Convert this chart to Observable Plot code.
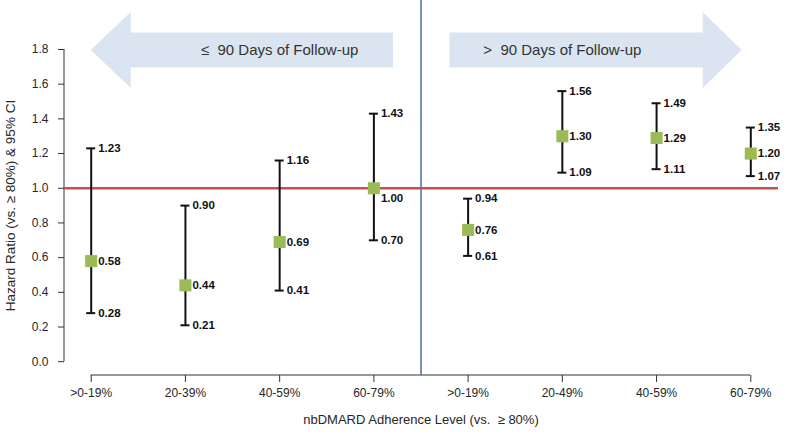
<!DOCTYPE html>
<html>
<head>
<meta charset="utf-8">
<script src="https://cdn.jsdelivr.net/npm/d3@7"></script>
<script src="https://cdn.jsdelivr.net/npm/@observablehq/plot@0.6"></script>
<style>
  html, body { margin: 0; padding: 0; background: #fff; }
  svg { display: block; }
</style>
</head>
<body>
<div id="chart"></div>
<script>
// ---- data ----
const categories = [">0-19%", "20-39%", "40-59%", "60-79%", ">0-19%", "20-49%", "40-59%", "60-79%"];
const hazardRatio = [0.58, 0.44, 0.69, 1.00, 0.76, 1.30, 1.29, 1.20];
const ciLower     = [0.28, 0.21, 0.41, 0.70, 0.61, 1.09, 1.11, 1.07];
const ciUpper     = [1.23, 0.90, 1.16, 1.43, 0.94, 1.56, 1.49, 1.35];
const yTicks = [0.0, 0.2, 0.4, 0.6, 0.8, 1.0, 1.2, 1.4, 1.6, 1.8];
const periodLabels = ["\u2264  90 Days of Follow-up", ">  90 Days of Follow-up"];
const periodCenters = [2, 5];
const referenceHR = 1.0;
const xTitle = "nbDMARD Adherence Level (vs.  \u2265 80%)";
const yTitle = "Hazard Ratio (vs. \u2265 80%) & 95% CI";

const rows = categories.map((c, i) => ({i, c, hr: hazardRatio[i], lo: ciLower[i], hi: ciUpper[i]}));
const lastIndex = categories.length - 1;
const divider = lastIndex / 2;
const yMax = yTicks[yTicks.length - 1];
const fmt = d3.format(".2f");
const font = "'Liberation Sans', Arial, Helvetica, sans-serif";

// decorative block arrows + axis lines, positioned through the scales
function decorations(index, {x, y}, values, dims) {
  const g = d3.create("svg:g");
  const cy = y(yMax) + 1;
  const bh = 17.5, hh = 38, head = 40;
  const xd = x(divider);
  const L0 = x(0), L1 = xd - 27.5;
  const R0 = xd + 29, R1 = x(lastIndex) - 8.6;
  const left = [[L0, cy], [L0 + head, cy - hh], [L0 + head, cy - bh], [L1, cy - bh], [L1, cy + bh], [L0 + head, cy + bh], [L0 + head, cy + hh]];
  const right = [[R1, cy], [R1 - head + 1, cy - hh], [R1 - head + 1, cy - bh], [R0, cy - bh], [R0, cy + bh], [R1 - head + 1, cy + bh], [R1 - head + 1, cy + hh]];
  for (const p of [left, right]) {
    g.append("path").attr("d", "M" + p.map(q => q.join(",")).join("L") + "Z").attr("fill", "#dbe5f1");
  }
  const axisY = dims.height - dims.marginBottom;
  g.append("path")
    .attr("d", `M${dims.marginLeft},${y(yMax)}V${y(0)}M${x(0)},${axisY}H${x(lastIndex)}`)
    .attr("stroke", "#333").attr("fill", "none");
  return g.node();
}

const chart = Plot.plot({
  width: 787,
  height: 437,
  marginLeft: 64,
  marginRight: 9,
  marginTop: 0,
  marginBottom: 62,
  style: {fontFamily: font, background: "#fff", color: "#262626"},
  x: {type: "linear", domain: [0, lastIndex], range: [90.7, 750.3]},
  y: {domain: [0, yMax], range: [361.2, 49]},
  marks: [
    decorations,
    Plot.ruleX([divider], {stroke: "#5676a3", strokeWidth: 1.6}),
    Plot.ruleY([referenceHR], {stroke: "#c4504f", strokeWidth: 2.6}),
    Plot.axisY(yTicks, {tickFormat: d3.format(".1f"), tickSize: 6, tickPadding: 10, fontSize: 12, label: null, stroke: "#333"}),
    Plot.axisX(d3.range(categories.length), {tickFormat: i => categories[i], tickSize: 7, tickPadding: 6, fontSize: 12, label: null, stroke: "#333"}),
    Plot.text(periodLabels, {x: (d, i) => periodCenters[i], y: () => yMax, dy: 1, fontSize: 15, fill: "#333", textAnchor: "middle"}),
    Plot.text([xTitle], {x: () => divider, frameAnchor: "bottom", dy: 48, fontSize: 13, fill: "#262626", textAnchor: "middle"}),
    Plot.text([yTitle], {y: () => yMax / 2, frameAnchor: "left", dx: -54, rotate: -90, fontSize: 13.5, fill: "#262626", textAnchor: "middle"}),
    // error bars
    Plot.ruleX(rows, {x: "i", y1: "lo", y2: "hi", stroke: "#111", strokeWidth: 2}),
    Plot.ruleY(rows, {y: "hi", x1: "i", x2: "i", insetLeft: -4.5, insetRight: -4.5, stroke: "#111", strokeWidth: 2}),
    Plot.ruleY(rows, {y: "lo", x1: "i", x2: "i", insetLeft: -4.5, insetRight: -4.5, stroke: "#111", strokeWidth: 2}),
    // point estimates
    Plot.dot(rows, {x: "i", y: "hr", symbol: "square", r: 6.8, fill: "#9bbb59", stroke: null}),
    // value labels
    Plot.text(rows, {x: "i", y: "hi", text: d => fmt(d.hi), dx: 7, textAnchor: "start", fontSize: 11.5, fontWeight: "bold", fill: "#111"}),
    Plot.text(rows, {x: "i", y: "lo", text: d => fmt(d.lo), dx: 7, textAnchor: "start", fontSize: 11.5, fontWeight: "bold", fill: "#111"}),
    Plot.text(rows, {filter: d => d.hr !== referenceHR, x: "i", y: "hr", text: d => fmt(d.hr), dx: 7, textAnchor: "start", fontSize: 11.5, fontWeight: "bold", fill: "#111"}),
    Plot.text(rows, {filter: d => d.hr === referenceHR, x: "i", y: "hr", text: d => fmt(d.hr), dx: 7, dy: 10, textAnchor: "start", fontSize: 11.5, fontWeight: "bold", fill: "#111"})
  ]
});
document.getElementById("chart").appendChild(chart);
</script>
</body>
</html>
